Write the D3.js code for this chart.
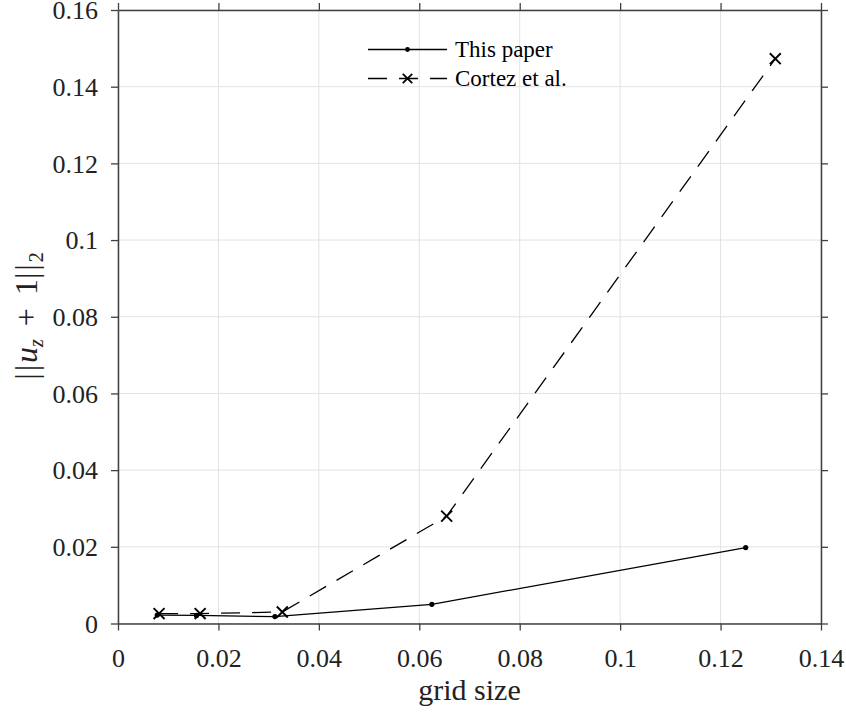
<!DOCTYPE html>
<html>
<head>
<meta charset="utf-8">
<script src="https://cdn.jsdelivr.net/npm/d3@7"></script>
<style>
  html, body { margin: 0; padding: 0; background: #fff; }
  svg { display: block; font-family: "Liberation Serif", "Times New Roman", serif; }
</style>
</head>
<body>
<svg id="chart" width="846" height="713"></svg>
<script>
// Error norm versus grid size for the two methods
const paperH = [0.0078125, 0.015625, 0.03125, 0.0625, 0.125];
const paperErr = [0.0022, 0.0021, 0.0018, 0.0050, 0.0198];
const cortezH = [0.00818, 0.01636, 0.03272, 0.06545, 0.1309];
const cortezErr = [0.0026, 0.0026, 0.0030, 0.0280, 0.1473];
const xTicks = [0, 0.02, 0.04, 0.06, 0.08, 0.1, 0.12, 0.14];
const yTicks = [0, 0.02, 0.04, 0.06, 0.08, 0.1, 0.12, 0.14, 0.16];
const seriesNames = ["This paper", "Cortez et al."];

const svg = d3.select("#chart");
const m = { left: 118, right: 821, top: 10, bottom: 623.5 };
const x = d3.scaleLinear().domain([0, 0.14]).range([m.left, m.right]);
const y = d3.scaleLinear().domain([0, 0.16]).range([m.bottom, m.top]);
const fmt = d => d3.format("~g")(d);
const axisColor = "#404040";
const serif = '"Liberation Serif", "Times New Roman", serif';

// grid
const grid = svg.append("g");
grid.selectAll("line.gx").data(xTicks).join("line")
  .attr("x1", d => x(d)).attr("x2", d => x(d))
  .attr("y1", m.top).attr("y2", m.bottom)
  .attr("stroke", "#e2e2e2").attr("stroke-width", 1);
grid.selectAll("line.gy").data(yTicks).join("line")
  .attr("x1", m.left).attr("x2", m.right)
  .attr("y1", d => y(d)).attr("y2", d => y(d))
  .attr("stroke", "#e2e2e2").attr("stroke-width", 1);

// axes on all four sides, ticks pointing out
function styleAxis(g) {
  g.attr("font-family", null).style("font-family", serif);
  g.selectAll(".domain").attr("stroke", axisColor).attr("stroke-width", 1.5);
  g.selectAll(".tick line").attr("stroke", axisColor).attr("stroke-width", 1.3);
  g.selectAll("text").attr("fill", "#222").style("font-size", "26px").style("font-family", serif);
}
const axBottom = svg.append("g").attr("transform", `translate(0,${m.bottom})`)
  .call(d3.axisBottom(x).tickValues(xTicks).tickFormat(fmt).tickSizeOuter(0).tickSizeInner(7));
styleAxis(axBottom);
axBottom.selectAll(".tick text").attr("dy", null).attr("y", 43.5);
const axTop = svg.append("g").attr("transform", `translate(0,${m.top})`)
  .call(d3.axisTop(x).tickValues(xTicks).tickFormat("").tickSizeOuter(0).tickSizeInner(7));
styleAxis(axTop);
const axLeft = svg.append("g").attr("transform", `translate(${m.left},0)`)
  .call(d3.axisLeft(y).tickValues(yTicks).tickFormat(fmt).tickSizeOuter(0).tickSizeInner(7).tickPadding(13));
styleAxis(axLeft);
axLeft.selectAll(".tick text").attr("dy", "0.34em");
const axRight = svg.append("g").attr("transform", `translate(${m.right},0)`)
  .call(d3.axisRight(y).tickValues(yTicks).tickFormat("").tickSizeOuter(0).tickSizeInner(7));
styleAxis(axRight);

// series lines
const lineP = d3.line().x((d, i) => x(paperH[i])).y(d => y(d));
const lineC = d3.line().x((d, i) => x(cortezH[i])).y(d => y(d));
svg.append("path").attr("d", lineC(cortezErr))
  .attr("fill", "none").attr("stroke", "#000").attr("stroke-width", 1.3)
  .attr("stroke-dasharray", "19,12");
svg.append("path").attr("d", lineP(paperErr))
  .attr("fill", "none").attr("stroke", "#000").attr("stroke-width", 1.3);

// markers
svg.selectAll("circle.p").data(paperErr).join("circle")
  .attr("cx", (d, i) => x(paperH[i])).attr("cy", d => y(d)).attr("r", 2.6).attr("fill", "#000");
const cross = d3.symbol().type(d3.symbolX).size(80);
svg.selectAll("path.c").data(cortezErr).join("path")
  .attr("d", cross)
  .attr("transform", (d, i) => `translate(${x(cortezH[i])},${y(d)})`)
  .attr("fill", "none").attr("stroke", "#000").attr("stroke-width", 1.9);

// legend
const lg = svg.append("g");
const lx0 = 368, lx1 = 447, lmid = 407.5, ly = [49.5, 78.5];
lg.append("line").attr("x1", lx0).attr("x2", lx1).attr("y1", ly[0]).attr("y2", ly[0])
  .attr("stroke", "#000").attr("stroke-width", 1.3);
lg.append("circle").attr("cx", lmid).attr("cy", ly[0]).attr("r", 2.4).attr("fill", "#000");
lg.append("line").attr("x1", lx0).attr("x2", lx1).attr("y1", ly[1]).attr("y2", ly[1])
  .attr("stroke", "#000").attr("stroke-width", 1.3).attr("stroke-dasharray", "19,12");
lg.append("path").attr("d", d3.symbol().type(d3.symbolX).size(60))
  .attr("transform", `translate(${lmid},${ly[1]})`)
  .attr("fill", "none").attr("stroke", "#000").attr("stroke-width", 1.8);
lg.selectAll("text").data(seriesNames).join("text")
  .attr("x", 455).attr("y", (d, i) => ly[i]).attr("dy", "0.33em")
  .style("font-size", "23px").attr("fill", "#000").text(d => d);

// axis titles
svg.append("text").attr("x", (m.left + m.right) / 2).attr("y", 700)
  .attr("text-anchor", "middle").style("font-size", "30px").attr("fill", "#222").text("grid size");

const yl = svg.append("text")
  .attr("transform", `translate(37,316) rotate(-90)`)
  .attr("text-anchor", "middle").style("font-size", "32px").attr("fill", "#222")
  .style("word-spacing", "5px");
yl.append("tspan").style("letter-spacing", "2px").text("||");
yl.append("tspan").attr("font-style", "italic").text("u");
yl.append("tspan").attr("font-style", "italic").style("font-size", "20px").attr("dy", 6).text("z");
yl.append("tspan").attr("dy", -6).text(" + 1");
yl.append("tspan").style("letter-spacing", "2px").text("||");
yl.append("tspan").style("font-size", "20px").attr("dy", 6).text("2");
</script>
</body>
</html>
